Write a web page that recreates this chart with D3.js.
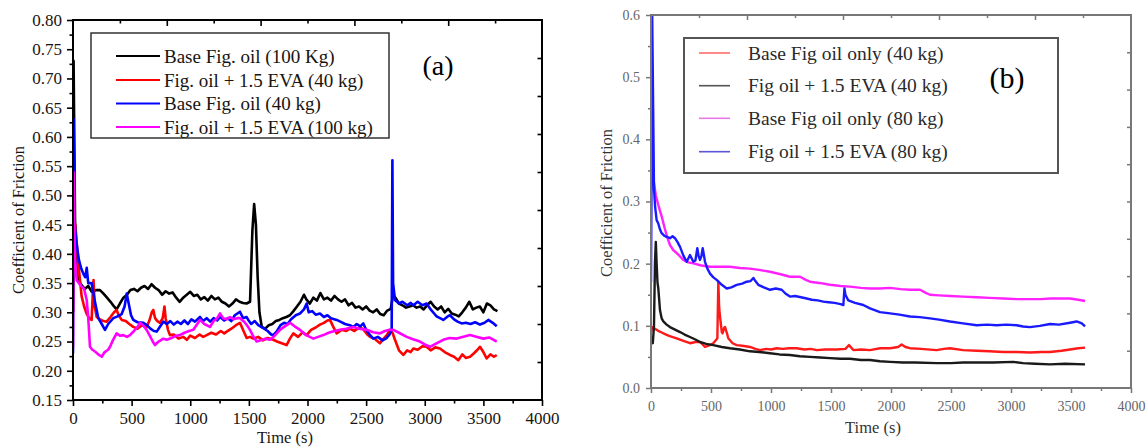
<!DOCTYPE html>
<html>
<head>
<meta charset="utf-8">
<script src="https://cdn.jsdelivr.net/npm/d3@7"></script>
<style>
  body { margin: 0; background: #fff; }
  svg { display: block; }
  svg text { font-family: "Liberation Serif", "Times New Roman", serif; }
</style>
</head>
<body>
<script>
const SERIF = "Liberation Serif";

// ---------- panel (a) data: [time s, COF] ----------
const aNames = ["Base Fig. oil (100 Kg)", "Fig. oil + 1.5 EVA (40 kg)", "Base Fig. oil (40 kg)", "Fig. oil + 1.5 EVA (100 kg)"];
const aColors = ["#000000", "#ff0000", "#0000ff", "#ff00ff"];

const aBlack100 = [[0,0.30],[5,0.73],[20,0.40],[40,0.36],[60,0.35],[80,0.345],[100,0.34],[130,0.345],[160,0.335],[200,0.338],[230,0.338],[260,0.332],[290,0.325],[320,0.318],[350,0.31],[372,0.305],[400,0.315],[430,0.325],[460,0.33],[490,0.338],[520,0.34],[550,0.336],[580,0.342],[610,0.345],[640,0.34],[670,0.348],[700,0.342],[730,0.338],[760,0.33],[790,0.336],[820,0.332],[850,0.334],[880,0.325],[910,0.318],[940,0.325],[970,0.33],[1000,0.335],[1030,0.328],[1060,0.33],[1090,0.322],[1120,0.326],[1150,0.32],[1180,0.328],[1210,0.322],[1240,0.325],[1270,0.318],[1300,0.315],[1330,0.31],[1360,0.315],[1390,0.322],[1420,0.318],[1450,0.316],[1480,0.315],[1510,0.318],[1530,0.44],[1545,0.485],[1560,0.45],[1575,0.36],[1590,0.30],[1610,0.275],[1640,0.272],[1670,0.278],[1700,0.28],[1730,0.285],[1760,0.287],[1790,0.29],[1820,0.292],[1850,0.295],[1880,0.302],[1910,0.31],[1940,0.318],[1970,0.33],[1990,0.322],[2020,0.315],[2050,0.325],[2080,0.32],[2110,0.333],[2140,0.322],[2170,0.325],[2200,0.32],[2230,0.328],[2260,0.322],[2290,0.318],[2320,0.322],[2350,0.312],[2380,0.316],[2410,0.308],[2440,0.31],[2470,0.305],[2500,0.31],[2530,0.303],[2560,0.3],[2590,0.305],[2620,0.297],[2650,0.295],[2680,0.303],[2710,0.306],[2730,0.33],[2750,0.325],[2780,0.315],[2810,0.312],[2840,0.308],[2870,0.31],[2900,0.312],[2930,0.308],[2960,0.31],[2990,0.305],[3020,0.312],[3050,0.318],[3080,0.31],[3110,0.305],[3140,0.31],[3170,0.3],[3200,0.306],[3230,0.298],[3260,0.296],[3290,0.293],[3320,0.3],[3350,0.308],[3380,0.318],[3410,0.305],[3440,0.308],[3470,0.31],[3500,0.3],[3530,0.315],[3560,0.312],[3590,0.305],[3620,0.302]];

const aRedEva40 = [[0,0.30],[5,0.46],[20,0.45],[45,0.384],[74,0.327],[95,0.31],[117,0.297],[140,0.29],[159,0.287],[168,0.33],[175,0.355],[185,0.31],[202,0.292],[230,0.288],[260,0.285],[287,0.284],[320,0.292],[350,0.3],[372,0.304],[390,0.295],[415,0.287],[450,0.285],[480,0.28],[514,0.275],[550,0.272],[590,0.278],[628,0.275],[650,0.285],[672,0.3],[685,0.304],[700,0.29],[720,0.285],[742,0.282],[765,0.29],[780,0.31],[790,0.29],[810,0.27],[827,0.261],[860,0.262],[900,0.255],[940,0.258],[970,0.253],[1000,0.26],[1040,0.256],[1080,0.262],[1110,0.258],[1140,0.261],[1180,0.265],[1220,0.262],[1260,0.268],[1290,0.264],[1311,0.267],[1350,0.272],[1390,0.278],[1424,0.282],[1450,0.27],[1481,0.256],[1510,0.258],[1538,0.255],[1580,0.258],[1620,0.252],[1660,0.256],[1708,0.253],[1740,0.25],[1780,0.247],[1822,0.244],[1850,0.255],[1879,0.264],[1920,0.258],[1960,0.266],[1993,0.261],[2030,0.27],[2070,0.274],[2106,0.279],[2140,0.282],[2170,0.286],[2192,0.287],[2220,0.275],[2249,0.264],[2290,0.27],[2330,0.268],[2362,0.272],[2400,0.268],[2448,0.275],[2480,0.27],[2510,0.262],[2533,0.258],[2570,0.255],[2600,0.25],[2618,0.247],[2650,0.255],[2680,0.262],[2703,0.27],[2725,0.265],[2746,0.253],[2780,0.235],[2817,0.227],[2850,0.235],[2880,0.232],[2903,0.238],[2940,0.236],[2980,0.242],[3016,0.241],[3050,0.235],[3090,0.24],[3130,0.238],[3170,0.232],[3215,0.227],[3250,0.224],[3286,0.218],[3320,0.228],[3350,0.222],[3386,0.224],[3420,0.23],[3450,0.236],[3471,0.241],[3500,0.232],[3528,0.221],[3560,0.228],[3590,0.224],[3614,0.227]];

const aBlue40 = [[0,0.23],[5,0.63],[15,0.45],[30,0.418],[50,0.39],[70,0.375],[90,0.365],[105,0.36],[117,0.376],[130,0.35],[159,0.35],[185,0.32],[216,0.29],[245,0.28],[273,0.27],[300,0.28],[344,0.29],[380,0.293],[415,0.297],[440,0.31],[458,0.332],[475,0.315],[495,0.295],[514,0.287],[550,0.283],[600,0.282],[630,0.278],[660,0.272],[690,0.268],[714,0.267],[740,0.275],[771,0.284],[800,0.28],[830,0.285],[860,0.279],[890,0.284],[920,0.28],[950,0.286],[980,0.28],[1010,0.288],[1040,0.284],[1083,0.292],[1110,0.285],[1140,0.29],[1170,0.284],[1200,0.29],[1230,0.286],[1254,0.292],[1290,0.286],[1320,0.29],[1350,0.285],[1380,0.295],[1424,0.301],[1450,0.29],[1480,0.292],[1495,0.287],[1520,0.28],[1550,0.285],[1580,0.278],[1623,0.273],[1660,0.268],[1690,0.262],[1708,0.261],[1740,0.268],[1770,0.278],[1800,0.282],[1830,0.28],[1860,0.288],[1900,0.295],[1936,0.298],[1970,0.305],[1993,0.315],[2010,0.3],[2040,0.302],[2070,0.296],[2106,0.298],[2140,0.292],[2170,0.295],[2200,0.29],[2249,0.287],[2280,0.284],[2320,0.28],[2360,0.278],[2391,0.275],[2420,0.28],[2450,0.276],[2476,0.281],[2500,0.27],[2530,0.262],[2561,0.255],[2600,0.258],[2640,0.252],[2675,0.256],[2700,0.262],[2718,0.27],[2724,0.56],[2730,0.35],[2746,0.321],[2780,0.315],[2810,0.318],[2850,0.312],[2880,0.316],[2903,0.312],[2940,0.318],[2980,0.312],[3016,0.315],[3050,0.305],[3080,0.298],[3101,0.293],[3130,0.29],[3158,0.287],[3190,0.292],[3215,0.295],[3250,0.288],[3280,0.284],[3315,0.281],[3350,0.282],[3390,0.28],[3430,0.283],[3471,0.279],[3510,0.282],[3542,0.287],[3580,0.282],[3614,0.276]];

const aMagEva100 = [[0,0.24],[5,0.54],[15,0.40],[31,0.355],[50,0.35],[74,0.344],[95,0.34],[117,0.321],[130,0.29],[145,0.241],[165,0.236],[188,0.233],[215,0.228],[245,0.224],[270,0.232],[300,0.236],[316,0.241],[340,0.252],[372,0.264],[400,0.26],[429,0.261],[460,0.258],[486,0.261],[520,0.268],[550,0.275],[571,0.282],[600,0.277],[628,0.27],[660,0.258],[680,0.25],[699,0.244],[730,0.25],[770,0.255],[799,0.253],[840,0.256],[880,0.26],[912,0.261],[950,0.265],[990,0.268],[1026,0.27],[1060,0.28],[1083,0.287],[1120,0.28],[1168,0.275],[1200,0.285],[1230,0.29],[1254,0.298],[1280,0.29],[1310,0.288],[1339,0.292],[1370,0.288],[1400,0.29],[1424,0.29],[1460,0.284],[1490,0.276],[1509,0.27],[1540,0.258],[1566,0.25],[1600,0.252],[1640,0.255],[1680,0.253],[1720,0.26],[1765,0.27],[1800,0.275],[1851,0.282],[1890,0.276],[1936,0.27],[1980,0.262],[2020,0.258],[2050,0.255],[2090,0.258],[2135,0.261],[2180,0.265],[2230,0.268],[2277,0.27],[2330,0.272],[2391,0.275],[2440,0.272],[2505,0.27],[2560,0.266],[2618,0.264],[2660,0.268],[2700,0.27],[2732,0.27],[2780,0.265],[2846,0.258],[2900,0.254],[2959,0.25],[3000,0.245],[3044,0.241],[3100,0.247],[3158,0.253],[3210,0.256],[3272,0.255],[3330,0.258],[3386,0.261],[3440,0.258],[3499,0.255],[3550,0.257],[3614,0.25]];

// ---------- panel (b) data ----------
const bNames = ["Base Fig oil only (40 kg)", "Fig oil + 1.5 EVA (40 kg)", "Base Fig oil only (80 kg)", "Fig oil + 1.5 EVA (80 kg)"];
const bColors = ["#ff1a1a", "#1a1a1a", "#ff22ff", "#1a1aff"];
const bLegendColors = ["#ff6b6b", "#555555", "#e77ae7", "#5b55d6"];

const bRed40 = [[0,0.09],[10,0.098],[19,0.097],[60,0.092],[103,0.088],[150,0.084],[214,0.08],[270,0.076],[325,0.072],[370,0.074],[408,0.074],[430,0.07],[450,0.066],[480,0.068],[519,0.072],[545,0.078],[553,0.08],[561,0.171],[568,0.13],[575,0.115],[590,0.09],[597,0.088],[610,0.097],[617,0.098],[630,0.09],[644,0.08],[680,0.072],[714,0.069],[760,0.068],[825,0.066],[870,0.063],[908,0.061],[960,0.063],[1000,0.062],[1047,0.064],[1100,0.063],[1150,0.064],[1214,0.064],[1280,0.062],[1330,0.063],[1381,0.061],[1450,0.062],[1547,0.062],[1620,0.063],[1650,0.069],[1686,0.061],[1750,0.062],[1825,0.061],[1908,0.064],[1992,0.064],[2060,0.066],[2089,0.07],[2120,0.066],[2158,0.064],[2250,0.063],[2381,0.061],[2440,0.063],[2492,0.064],[2600,0.061],[2714,0.06],[2820,0.059],[2936,0.058],[3050,0.058],[3158,0.057],[3250,0.058],[3325,0.058],[3420,0.06],[3492,0.062],[3560,0.064],[3617,0.065]];

const bBlackEva40 = [[0,0.08],[15,0.072],[25,0.1],[33,0.2],[40,0.235],[47,0.2],[54,0.17],[61,0.16],[75,0.125],[89,0.112],[103,0.107],[130,0.102],[158,0.098],[200,0.094],[242,0.09],[280,0.086],[325,0.082],[370,0.078],[408,0.074],[460,0.071],[519,0.069],[590,0.066],[658,0.064],[740,0.062],[825,0.059],[900,0.058],[992,0.056],[1070,0.054],[1158,0.053],[1240,0.051],[1325,0.05],[1410,0.049],[1492,0.048],[1580,0.047],[1658,0.047],[1750,0.045],[1825,0.045],[1908,0.043],[1992,0.042],[2100,0.041],[2200,0.041],[2381,0.04],[2500,0.04],[2600,0.041],[2714,0.041],[2850,0.041],[3019,0.042],[3100,0.04],[3200,0.039],[3325,0.038],[3450,0.039],[3617,0.038]];

const bMag80 = [[0,0.33],[5,0.35],[12,0.345],[25,0.33],[40,0.31],[60,0.295],[75,0.285],[89,0.276],[117,0.255],[140,0.24],[158,0.23],[185,0.222],[214,0.217],[240,0.212],[269,0.206],[310,0.202],[353,0.2005],[420,0.197],[492,0.195],[560,0.195],[658,0.195],[740,0.193],[825,0.192],[900,0.19],[992,0.187],[1080,0.183],[1158,0.179],[1242,0.179],[1290,0.174],[1325,0.171],[1400,0.169],[1492,0.166],[1580,0.164],[1658,0.163],[1750,0.161],[1825,0.16],[1908,0.16],[1992,0.161],[2080,0.159],[2158,0.158],[2242,0.158],[2290,0.153],[2325,0.15],[2400,0.149],[2492,0.148],[2600,0.147],[2714,0.146],[2820,0.145],[2936,0.144],[3050,0.143],[3158,0.143],[3250,0.143],[3325,0.144],[3420,0.144],[3492,0.144],[3560,0.142],[3617,0.14]];

const bBlueEva80 = [[0,0.17],[5,0.35],[10,0.6],[18,0.45],[25,0.32],[35,0.29],[47,0.27],[60,0.265],[75,0.255],[89,0.249],[110,0.245],[130,0.243],[158,0.241],[180,0.244],[200,0.241],[220,0.235],[242,0.227],[270,0.213],[297,0.203],[310,0.208],[325,0.214],[340,0.208],[353,0.203],[370,0.205],[386,0.225],[397,0.212],[408,0.206],[420,0.212],[431,0.225],[440,0.215],[450,0.203],[470,0.192],[492,0.184],[520,0.178],[547,0.174],[590,0.166],[631,0.16],[670,0.162],[714,0.166],[760,0.168],[797,0.171],[830,0.172],[853,0.177],[870,0.172],[894,0.166],[940,0.162],[992,0.158],[1040,0.16],[1089,0.158],[1120,0.152],[1158,0.147],[1200,0.148],[1250,0.146],[1297,0.144],[1340,0.142],[1390,0.141],[1436,0.139],[1480,0.138],[1530,0.137],[1580,0.135],[1603,0.1335],[1612,0.16],[1620,0.15],[1644,0.141],[1700,0.137],[1769,0.1335],[1825,0.128],[1908,0.122],[1992,0.12],[2070,0.118],[2158,0.115],[2240,0.114],[2325,0.112],[2400,0.11],[2492,0.107],[2600,0.104],[2714,0.101],[2800,0.102],[2881,0.101],[2960,0.102],[3047,0.101],[3100,0.099],[3158,0.098],[3240,0.1],[3325,0.103],[3400,0.102],[3492,0.105],[3547,0.107],[3590,0.104],[3617,0.099]];

// ticks
const aYTicks = [0.15,0.20,0.25,0.30,0.35,0.40,0.45,0.50,0.55,0.60,0.65,0.70,0.75,0.80];
const bYTicks = [0.0,0.1,0.2,0.3,0.4,0.5,0.6];
const xTicks = [0,500,1000,1500,2000,2500,3000,3500,4000];

const svg = d3.select("body").append("svg").attr("width", 1148).attr("height", 447)
    .attr("font-family", SERIF);

function drawPanel(p) {
    const g = svg.append("g");
    const x = d3.scaleLinear().domain([0, 4000]).range([p.x0, p.x1]);
    const y = d3.scaleLinear().domain(p.yDomain).range([p.y1, p.y0]);

    const clipId = "clip-" + p.id;
    g.append("clipPath").attr("id", clipId)
        .append("rect").attr("x", p.x0).attr("y", p.y0)
        .attr("width", p.x1 - p.x0).attr("height", p.y1 - p.y0);

    // minor ticks (halfway)
    const yMinor = p.yTicks.slice(1).map((v, i) => (v + p.yTicks[i]) / 2);
    const xMinor = xTicks.slice(1).map((v, i) => (v + xTicks[i]) / 2);

    const axisStyle = sel => {
        sel.attr("font-family", SERIF).attr("font-size", p.tickFont);
        sel.select(".domain").remove();
        sel.selectAll("line").attr("stroke", p.axisColor).attr("stroke-width", p.tickWidth);
        sel.selectAll("text").attr("fill", p.labelColor);
    };

    g.append("g").attr("transform", `translate(0,${p.y1})`)
        .call(d3.axisBottom(x).tickValues(xMinor).tickSize(p.minorLen).tickFormat(""))
        .call(axisStyle);
    g.append("g").attr("transform", `translate(0,${p.y1})`)
        .call(d3.axisBottom(x).tickValues(xTicks).tickSize(p.majorLen).tickPadding(p.xPad).tickFormat(d3.format("d")))
        .call(axisStyle);
    g.append("g").attr("transform", `translate(${p.x0},0)`)
        .call(d3.axisLeft(y).tickValues(yMinor).tickSize(p.minorLen).tickFormat(""))
        .call(axisStyle);
    g.append("g").attr("transform", `translate(${p.x0},0)`)
        .call(d3.axisLeft(y).tickValues(p.yTicks).tickSize(p.majorLen).tickPadding(p.yPad).tickFormat(d3.format(p.yFormat)))
        .call(axisStyle);

    // mirrored top / right axes use ten divisions
    const tx = d3.scaleLinear().domain([0, 10]).range([p.x0, p.x1]);
    const ty = d3.scaleLinear().domain([0, 10]).range([p.y1, p.y0]);
    const inner = d3.range(1, 10);
    g.append("g").attr("transform", `translate(0,${p.y0})`)
        .call(d3.axisTop(tx).tickValues(inner.filter(d => d % 2 === 0)).tickSize(-p.majorLen).tickFormat(""))
        .call(axisStyle);
    g.append("g").attr("transform", `translate(0,${p.y0})`)
        .call(d3.axisTop(tx).tickValues(inner.filter(d => d % 2 === 1)).tickSize(-p.minorLen).tickFormat(""))
        .call(axisStyle);
    g.append("g").attr("transform", `translate(${p.x1},0)`)
        .call(d3.axisRight(ty).tickValues(inner).tickSize(-p.minorLen - 1).tickFormat(""))
        .call(axisStyle);

    // series
    const line = d3.line().x(d => x(d[0])).y(d => y(d[1]));
    const lines = g.append("g").attr("clip-path", `url(#${clipId})`);
    p.series.forEach((s, i) => {
        lines.append("path").datum(s).attr("d", line)
            .attr("fill", "none").attr("stroke", p.colors[i])
            .attr("stroke-width", p.lineWidth).attr("stroke-linejoin", "round");
    });

    // frame
    g.append("rect").attr("x", p.x0).attr("y", p.y0)
        .attr("width", p.x1 - p.x0).attr("height", p.y1 - p.y0)
        .attr("fill", "none").attr("stroke", p.axisColor).attr("stroke-width", p.frameWidth);

    // axis titles
    g.append("text").attr("transform", `translate(${p.yTitleX},${p.yTitleY}) rotate(-90)`)
        .attr("text-anchor", "middle").attr("dominant-baseline", "central")
        .attr("fill", p.titleColor).attr("font-size", 16.5).text("Coefficient of Friction");
    g.append("text").attr("x", p.xTitleX).attr("y", p.xTitleY)
        .attr("text-anchor", "middle").attr("dominant-baseline", "central")
        .attr("fill", p.titleColor).attr("font-size", 16.5).text("Time (s)");

    // legend
    const L = p.legend;
    g.append("rect").attr("x", L.x0).attr("y", L.y0).attr("width", L.x1 - L.x0).attr("height", L.y1 - L.y0)
        .attr("fill", "#fff").attr("stroke", L.stroke).attr("stroke-width", L.strokeWidth);
    p.names.forEach((name, i) => {
        const yy = L.rows[i];
        g.append("line").attr("x1", L.lx0).attr("x2", L.lx1).attr("y1", yy).attr("y2", yy)
            .attr("stroke", L.colors[i]).attr("stroke-width", L.lineWidth);
        g.append("text").attr("x", L.tx).attr("y", yy).attr("dominant-baseline", "central")
            .attr("fill", L.textColor).attr("font-size", L.font).text(name);
    });
    g.append("text").attr("x", p.tag.x).attr("y", p.tag.y).attr("text-anchor", "middle")
        .attr("dominant-baseline", "central").attr("fill", "#000")
        .attr("font-size", p.tag.size).text(p.tag.text);
}

drawPanel({
    id: "a", x0: 73, x1: 542, y0: 20, y1: 400, yDomain: [0.15, 0.80], yTicks: aYTicks, yFormat: ".2f",
    majorLen: 6, minorLen: 3.5, xPad: 6, yPad: 5, tickFont: 17, tickWidth: 1.6, frameWidth: 2,
    axisColor: "#000", labelColor: "#1a1410", titleColor: "#1a1410", lineWidth: 2.6,
    series: [aBlack100, aRedEva40, aBlue40, aMagEva100], colors: aColors, names: aNames,
    yTitleX: 18, yTitleY: 220, xTitleX: 285, xTitleY: 437,
    legend: { x0: 91, x1: 389, y0: 33, y1: 138, stroke: "#333", strokeWidth: 1.5,
        rows: [56, 80, 103.5, 127], lx0: 116, lx1: 160, tx: 164, font: 19,
        colors: aColors, lineWidth: 2, textColor: "#1a1410" },
    tag: { x: 438, y: 65, size: 28, text: "(a)" }
});

drawPanel({
    id: "b", x0: 651, x1: 1131, y0: 15, y1: 388, yDomain: [0, 0.6], yTicks: bYTicks, yFormat: ".1f",
    majorLen: 5, minorLen: 3, xPad: 8, yPad: 6, tickFont: 14, tickWidth: 1.5, frameWidth: 2,
    axisColor: "#777", labelColor: "#666", titleColor: "#333", lineWidth: 2.4,
    series: [bRed40, bBlackEva40, bMag80, bBlueEva80], colors: bColors, names: bNames,
    yTitleX: 606, yTitleY: 203, xTitleX: 873, xTitleY: 427,
    legend: { x0: 684, x1: 1058, y0: 38, y1: 173, stroke: "#555", strokeWidth: 2,
        rows: [53, 85.7, 118.3, 151.7], lx0: 699, lx1: 730, tx: 748, font: 19.5,
        colors: bLegendColors, lineWidth: 1.6, textColor: "#2a2a2a" },
    tag: { x: 1007, y: 77, size: 30, text: "(b)" }
});
</script>
</body>
</html>
